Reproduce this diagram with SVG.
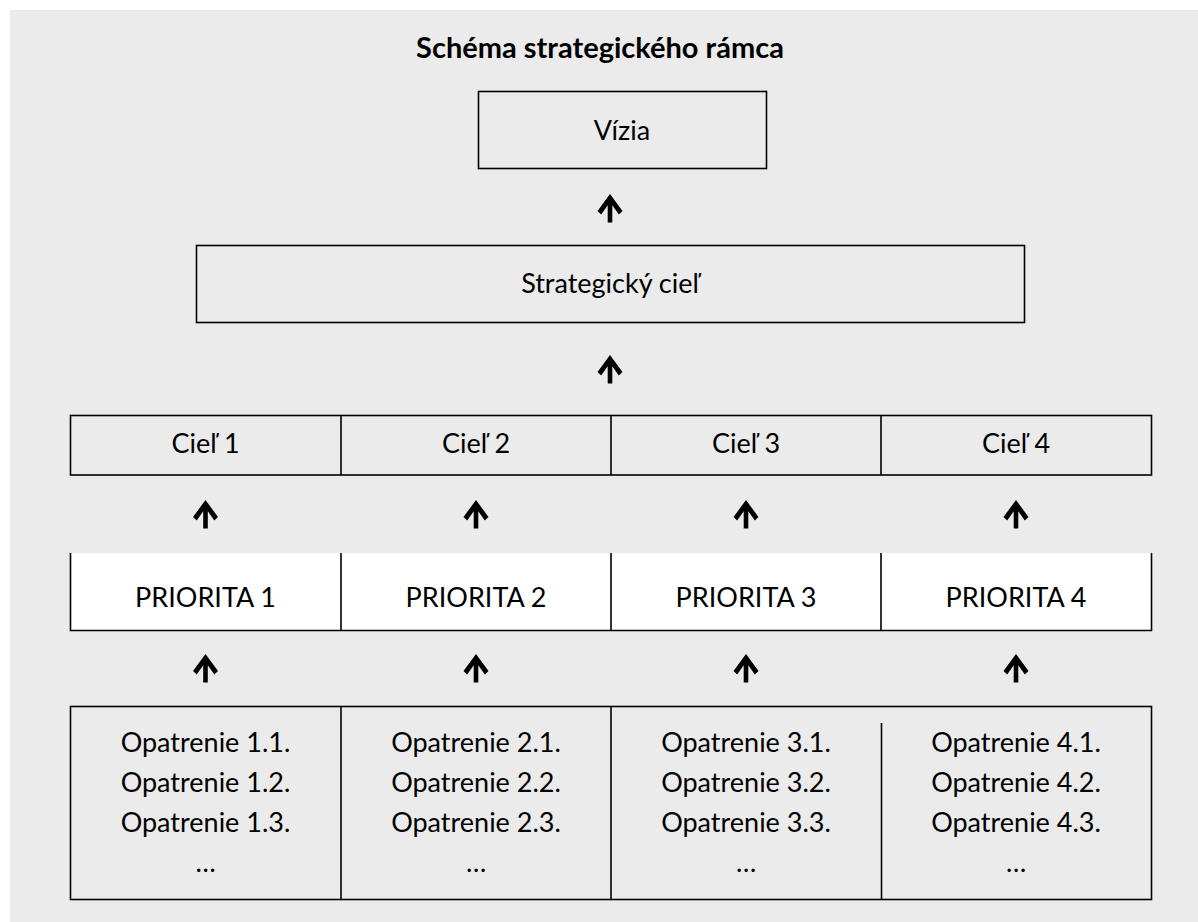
<svg xmlns="http://www.w3.org/2000/svg" width="1198" height="922" viewBox="0 0 1198 922">
<style>
.bg{fill:#ebebeb}
.box{fill:#ffffff;stroke:none}
.ln{stroke:#000;stroke-width:1.6;fill:none}
.t{font-family:Lato,"Liberation Sans",sans-serif;font-size:27px;fill:#000;text-anchor:middle}
.title{font-family:Lato,"Liberation Sans",sans-serif;font-size:29px;font-weight:bold;fill:#000;text-anchor:middle}
.arr{fill:#000}
</style>
<defs>
<path id="up" d="M0,0 L12.5,17 L8.8,20.5 L2.3,11.3 L2.3,28.5 L-2.3,28.5 L-2.3,11.3 L-8.8,20.5 L-12.5,17 Z"/>
</defs>
<rect class="bg" x="10" y="10" width="1188" height="912"/>
<g id="title"><text class="title" x="600" y="58">Schéma strategického rámca</text></g>
<g id="vizia">
<rect class="box ln" x="478.5" y="91.5" width="288" height="77"/>
<text class="t" x="622" y="140">Vízia</text>
</g>
<g id="strategicky-ciel">
<rect class="box ln" x="196.5" y="245.5" width="828" height="77"/>
<text class="t" x="610" y="293">Strategický cieľ</text>
</g>
<g id="ciele-row">
<rect class="box ln" x="70.5" y="415.5" width="1081" height="59.5"/>
<line class="ln" x1="341" y1="415.5" x2="341" y2="475"/>
<line class="ln" x1="611" y1="415.5" x2="611" y2="475"/>
<line class="ln" x1="881" y1="415.5" x2="881" y2="475"/>
</g>
<g id="ciel1"><text class="t" x="205.5" y="453">Cieľ 1</text></g>
<g id="ciel2"><text class="t" x="476" y="453">Cieľ 2</text></g>
<g id="ciel3"><text class="t" x="746" y="453">Cieľ 3</text></g>
<g id="ciel4"><text class="t" x="1016" y="453">Cieľ 4</text></g>
<g id="priority-row">
<rect class="box" x="70.5" y="553" width="1081" height="77.5"/>
<path class="ln" d="M70.5,553 V630.5 H1151.5 V553"/>
<line class="ln" x1="341" y1="553" x2="341" y2="630.5"/>
<line class="ln" x1="611" y1="553" x2="611" y2="630.5"/>
<line class="ln" x1="881" y1="553" x2="881" y2="630.5"/>
</g>
<g id="priorita1"><text class="t" x="205.5" y="607">PRIORITA 1</text></g>
<g id="priorita2"><text class="t" x="476" y="607">PRIORITA 2</text></g>
<g id="priorita3"><text class="t" x="746" y="607">PRIORITA 3</text></g>
<g id="priorita4"><text class="t" x="1016" y="607">PRIORITA 4</text></g>
<g id="opatrenia-row">
<rect class="box ln" x="70.5" y="706.5" width="1081" height="193"/>
<line class="ln" x1="341" y1="706.5" x2="341" y2="899.5"/>
<line class="ln" x1="611" y1="706.5" x2="611" y2="899.5"/>
<line class="ln" x1="881.5" y1="723" x2="881.5" y2="899.5"/>
</g>
<g id="opatrenia1">
<text class="t" x="205.5" y="752">Opatrenie 1.1.</text>
<text class="t" x="205.5" y="792">Opatrenie 1.2.</text>
<text class="t" x="205.5" y="832">Opatrenie 1.3.</text>
<text class="t" x="205.5" y="872">…</text>
</g>
<g id="opatrenia2">
<text class="t" x="476" y="752">Opatrenie 2.1.</text>
<text class="t" x="476" y="792">Opatrenie 2.2.</text>
<text class="t" x="476" y="832">Opatrenie 2.3.</text>
<text class="t" x="476" y="872">…</text>
</g>
<g id="opatrenia3">
<text class="t" x="746" y="752">Opatrenie 3.1.</text>
<text class="t" x="746" y="792">Opatrenie 3.2.</text>
<text class="t" x="746" y="832">Opatrenie 3.3.</text>
<text class="t" x="746" y="872">…</text>
</g>
<g id="opatrenia4">
<text class="t" x="1016" y="752">Opatrenie 4.1.</text>
<text class="t" x="1016" y="792">Opatrenie 4.2.</text>
<text class="t" x="1016" y="832">Opatrenie 4.3.</text>
<text class="t" x="1016" y="872">…</text>
</g>
<g id="connectors" class="arr">
<use href="#up" x="610" y="194"/>
<use href="#up" x="610" y="355"/>
<use href="#up" x="205.5" y="500"/>
<use href="#up" x="476" y="500"/>
<use href="#up" x="746" y="500"/>
<use href="#up" x="1016" y="500"/>
<use href="#up" x="205.5" y="654"/>
<use href="#up" x="476" y="654"/>
<use href="#up" x="746" y="654"/>
<use href="#up" x="1016" y="654"/>
</g>
</svg>
